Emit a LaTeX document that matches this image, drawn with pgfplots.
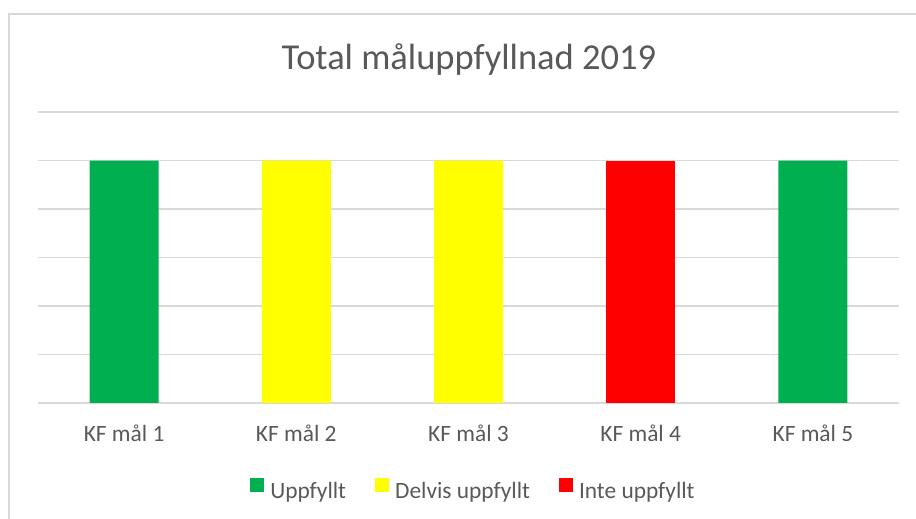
\documentclass[border=0pt]{standalone}
\usepackage{fontspec}
\setmainfont{Carlito}
\usepackage{pgfplots}
\pgfplotsset{compat=1.18}

\definecolor{okgreen}{HTML}{00B050}
\definecolor{partyellow}{HTML}{FFFF00}
\definecolor{nored}{HTML}{FF0000}
\definecolor{textgray}{HTML}{595959}
\definecolor{linegray}{HTML}{D9D9D9}

\begin{document}
\begin{tikzpicture}
\useasboundingbox (0,0) rectangle (916pt,519pt);
% chart frame (runs off the right and bottom edge)
\begin{scope}
  \clip (0,0) rectangle (916pt,519pt);
  \draw[linegray, line width=1.5pt] (9pt,-5pt) -- (9pt,505pt) -- (925pt,505pt);
\end{scope}
\node[anchor=base, text=textgray, font=\fontsize{36.5}{44}\selectfont, inner sep=0pt]
  at (469pt,449pt) {Total måluppfyllnad 2019};

\begin{axis}[
    at={(38pt,116pt)}, anchor=south west,
    scale only axis,
    width=861pt, height=291pt,
    ybar,
    bar width=69pt,
    xmin=-0.5, xmax=4.5,
    ymin=0, ymax=6,
    ytick={0,1,2,3,4,5,6},
    yticklabels={},
    xtick={0,1,2,3,4},
    xticklabels={KF mål 1, KF mål 2, KF mål 3, KF mål 4, KF mål 5},
    xticklabel style={anchor=base, inner sep=0pt, yshift=-39pt, text=textgray,
        font=\fontsize{23.4}{28}\selectfont},
    major tick length=0pt,
    axis line style={draw=none},
    ymajorgrids=true,
    grid style={linegray, line width=1.2pt},
    legend columns=3,
    legend style={at={(0.5046,-0.2955)}, anchor=center, draw=none, fill=none,
        inner sep=0pt, nodes={inner sep=0pt, text=textgray},
        font=\fontsize{23.4}{28}\selectfont,
        /tikz/every odd column/.append style={column sep=6pt},
        /tikz/every even column/.append style={column sep=29pt}},
    legend image code/.code={\fill[#1] (0pt,0pt) rectangle (14pt,14pt);},
]
\addplot[fill=okgreen, draw=none, bar shift=0pt] coordinates {(0,5) (4,5)};
\addlegendentry{Uppfyllt}
\addplot[fill=partyellow, draw=none, bar shift=0pt] coordinates {(1,5) (2,5)};
\addlegendentry{Delvis uppfyllt}
\addplot[fill=nored, draw=none, bar shift=0pt] coordinates {(3,5)};
\addlegendentry{Inte uppfyllt}
\end{axis}
\end{tikzpicture}
\end{document}
